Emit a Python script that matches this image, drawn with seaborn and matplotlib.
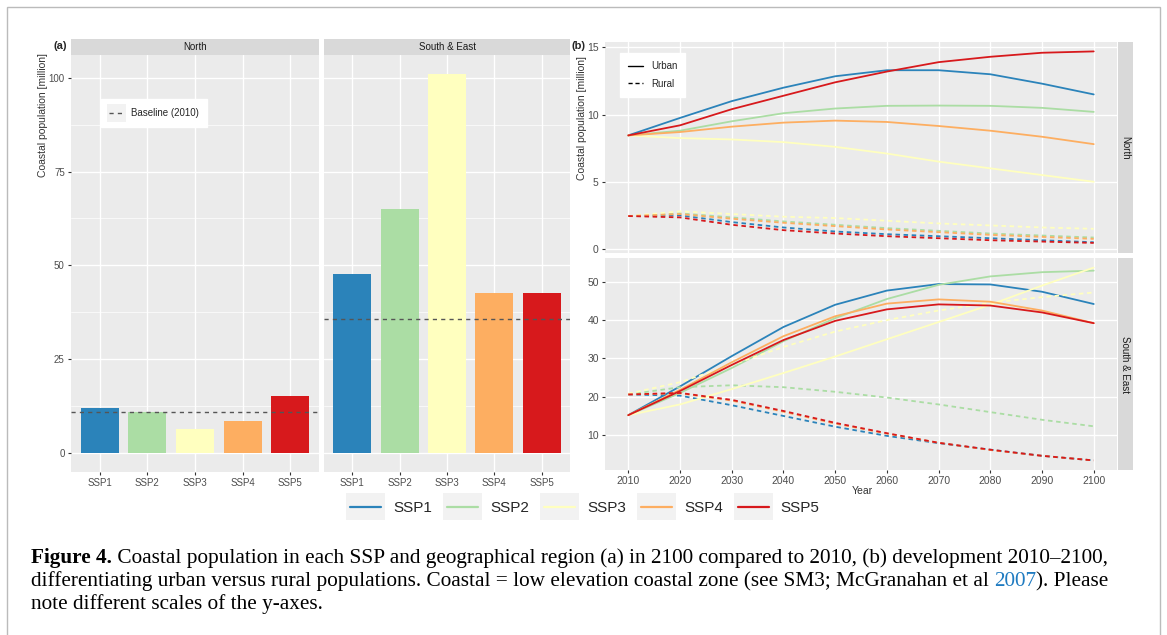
import matplotlib
matplotlib.use("Agg")
import numpy as np
import pandas as pd
import matplotlib.pyplot as plt
import seaborn as sns
from matplotlib.lines import Line2D
from matplotlib.patches import Rectangle
from matplotlib.legend_handler import HandlerLine2D

# data
ssps = ["SSP1", "SSP2", "SSP3", "SSP4", "SSP5"]
ssp_colors = ["#2b83ba", "#abdda4", "#ffffbf", "#fdae61", "#d7191c"]

# (a) coastal population in 2100 [million]
pop2100_north = [11.9, 11.0, 6.3, 8.6, 15.3]
pop2100_south = [47.6, 65.0, 101.0, 42.7, 42.6]
baseline_north = 11.0
baseline_south = 35.8

# (b) development 2010-2100
years = [2010, 2020, 2030, 2040, 2050, 2060, 2070, 2080, 2090, 2100]

north_urban_ssp1 = [8.45, 9.75, 11.0, 12.0, 12.85, 13.3, 13.3, 13.0, 12.3, 11.5]
north_urban_ssp2 = [8.45, 8.8, 9.5, 10.1, 10.45, 10.65, 10.67, 10.65, 10.5, 10.2]
north_urban_ssp3 = [8.45, 8.25, 8.15, 7.95, 7.6, 7.1, 6.5, 6.0, 5.5, 5.0]
north_urban_ssp4 = [8.45, 8.7, 9.1, 9.4, 9.55, 9.45, 9.15, 8.8, 8.35, 7.8]
north_urban_ssp5 = [8.45, 9.2, 10.4, 11.4, 12.4, 13.2, 13.9, 14.3, 14.6, 14.7]

north_rural_ssp1 = [2.45, 2.5, 2.0, 1.6, 1.3, 1.1, 0.95, 0.8, 0.65, 0.5]
north_rural_ssp2 = [2.45, 2.65, 2.35, 2.05, 1.8, 1.55, 1.35, 1.15, 1.0, 0.85]
north_rural_ssp3 = [2.45, 2.8, 2.6, 2.4, 2.3, 2.1, 1.9, 1.75, 1.6, 1.5]
north_rural_ssp4 = [2.45, 2.6, 2.25, 1.95, 1.7, 1.45, 1.25, 1.05, 0.9, 0.75]
north_rural_ssp5 = [2.45, 2.35, 1.8, 1.4, 1.15, 0.95, 0.8, 0.65, 0.55, 0.45]

south_urban_ssp1 = [15.2, 22.7, 30.6, 38.2, 44.0, 47.7, 49.4, 49.3, 47.4, 44.2]
south_urban_ssp2 = [15.2, 21.0, 27.5, 34.5, 40.5, 45.5, 49.2, 51.4, 52.5, 52.9]
south_urban_ssp3 = [15.2, 18.0, 22.0, 26.2, 30.5, 35.0, 39.5, 44.0, 49.0, 53.7]
south_urban_ssp4 = [15.2, 21.8, 29.0, 35.8, 41.0, 44.3, 45.4, 44.8, 42.5, 39.2]
south_urban_ssp5 = [15.2, 21.5, 28.3, 34.8, 39.8, 42.8, 44.1, 43.8, 42.0, 39.2]

south_rural_ssp1 = [20.6, 20.3, 17.8, 15.0, 12.2, 9.8, 7.9, 6.2, 4.6, 3.4]
south_rural_ssp2 = [20.6, 22.5, 23.0, 22.5, 21.3, 19.8, 18.0, 16.0, 14.0, 12.3]
south_rural_ssp3 = [20.8, 23.8, 28.3, 33.0, 37.0, 40.0, 42.5, 44.5, 46.0, 47.2]
south_rural_ssp4 = [20.6, 20.9, 19.0, 16.1, 13.0, 10.4, 8.0, 6.1, 4.6, 3.4]
south_rural_ssp5 = [20.6, 21.0, 19.2, 16.3, 13.2, 10.5, 8.0, 6.2, 4.6, 3.4]

series = {
    ("North", "Urban"): [north_urban_ssp1, north_urban_ssp2, north_urban_ssp3, north_urban_ssp4, north_urban_ssp5],
    ("North", "Rural"): [north_rural_ssp1, north_rural_ssp2, north_rural_ssp3, north_rural_ssp4, north_rural_ssp5],
    ("South & East", "Urban"): [south_urban_ssp1, south_urban_ssp2, south_urban_ssp3, south_urban_ssp4, south_urban_ssp5],
    ("South & East", "Rural"): [south_rural_ssp1, south_rural_ssp2, south_rural_ssp3, south_rural_ssp4, south_rural_ssp5],
}
rows = []
for (region, kind), vals in series.items():
    for ssp, v in zip(ssps, vals):
        for yr, p in zip(years, v):
            rows.append({"region": region, "type": kind, "ssp": ssp, "year": yr, "pop": p})
df_lines = pd.DataFrame(rows)

# ggplot-ish look
sns.set_theme(style="darkgrid", rc={
    "axes.facecolor": "#EBEBEB",
    "grid.color": "white",
    "grid.linewidth": 1.0,
    "axes.edgecolor": "none",
})
plt.rcParams["font.family"] = ["Liberation Sans", "DejaVu Sans"]

W, H = 1167, 635
fig = plt.figure(figsize=(W / 100, H / 100), dpi=100)


def px_axes(x0, y0, x1, y1):
    # pixel box (top-left origin) -> figure axes
    return fig.add_axes([x0 / W, 1 - y1 / H, (x1 - x0) / W, (y1 - y0) / H])


def strip(x0, y0, x1, y1, label, rot=0):
    ax = px_axes(x0, y0, x1, y1)
    ax.set_facecolor("#D9D9D9")
    ax.set_xticks([])
    ax.set_yticks([])
    ax.grid(False)
    ax.text(0.5, 0.5, label, transform=ax.transAxes, ha="center", va="center",
            fontsize=7, color="#1A1A1A", rotation=rot)
    return ax


# legend key with the light grey ggplot box behind it
class KeyBox(HandlerLine2D):
    def __init__(self, pad=3, **kw):
        super().__init__(**kw)
        self.pad = pad

    def create_artists(self, legend, orig, xd, yd, w, h, fontsize, trans):
        p = self.pad
        box = Rectangle((-xd - p, -yd - 2 * p), w + 2 * p, h + 4 * p, facecolor="#F2F2F2",
                        edgecolor="none", transform=trans)
        return [box] + super().create_artists(legend, orig, xd, yd, w, h, fontsize, trans)


tick_col = "#4D4D4D"

# ---------- panel (a) ----------
bar_boxes = [(71, 319, pop2100_north, baseline_north, "North"),
             (324, 570, pop2100_south, baseline_south, "South & East")]
for i, (x0, x1, vals, base, name) in enumerate(bar_boxes):
    ax = px_axes(x0, 55, x1, 472)
    sns.barplot(x=ssps, y=vals, hue=ssps, palette=ssp_colors, width=0.8,
                legend=False, ax=ax, saturation=1, edgecolor="none")
    ax.axhline(base, ls=(0, (3, 3)), color="#555555", lw=1)
    ax.set_xlim(-0.6, 4.6)
    ax.set_ylim(-5.05, 106.05)
    ax.set_yticks([0, 25, 50, 75, 100])
    ax.set_yticks([12.5, 37.5, 62.5, 87.5], minor=True)
    ax.grid(which="minor", axis="y", color="white", lw=0.5)
    ax.grid(which="major", color="white", lw=1.0)
    ax.set_axisbelow(True)
    ax.set_xlabel("")
    ax.set_ylabel("")
    ax.tick_params(axis="both", which="major", length=2.5, width=0.8, color="#333333",
                   labelsize=7, labelcolor=tick_col, pad=2, bottom=True, left=(i == 0))
    ax.tick_params(axis="both", which="minor", length=0)
    if i > 0:
        ax.set_yticklabels([])
    else:
        ax.legend(handles=[Line2D([], [], color="#555555", lw=1, ls=(0, (3, 3)))],
                  labels=["Baseline (2010)"], loc="upper left",
                  bbox_to_anchor=(0.1, 0.905), fontsize=7, frameon=True,
                  fancybox=False, framealpha=1, edgecolor="white",
                  facecolor="white", handlelength=1.4, borderpad=0.9,
                  handler_map={Line2D: KeyBox(pad=2)})
    strip(x0, 39, x1, 55, name)

fig.text(60 / W, 1 - 46 / H, "(a)", fontsize=8, fontweight="bold", ha="center", va="center")
fig.text(43 / W, 1 - 115 / H, "Coastal population [million]", rotation=90,
         fontsize=7.5, color="#333333", ha="center", va="center")

# ---------- panel (b) ----------
line_boxes = [(42, 253, "North", (-0.3, 15.4), [0, 5, 10, 15]),
              (258, 470, "South & East", (0.9, 56.2), [10, 20, 30, 40, 50])]
for j, (y0, y1, region, ylim, yt) in enumerate(line_boxes):
    ax = px_axes(605, y0, 1117, y1)
    sub = df_lines[df_lines["region"] == region]
    sns.lineplot(data=sub, x="year", y="pop", hue="ssp", style="type",
                 hue_order=ssps, palette=ssp_colors, style_order=["Urban", "Rural"],
                 dashes={"Urban": "", "Rural": (2.5, 2)}, lw=1.3, legend=False, ax=ax)
    ax.set_xlim(2005.5, 2104.5)
    ax.set_ylim(*ylim)
    ax.set_xticks(years)
    ax.set_yticks(yt)
    ax.grid(color="white", lw=1.0)
    ax.set_xlabel("")
    ax.set_ylabel("")
    ax.tick_params(axis="both", length=2.5, width=0.8, color="#333333",
                   labelsize=7.5, labelcolor=tick_col, pad=2, bottom=True, left=True)
    if j == 0:
        ax.set_xticklabels([])
        ax.tick_params(axis="x", length=0)
        ax.legend(handles=[Line2D([], [], color="black", lw=1),
                           Line2D([], [], color="black", lw=1, ls=(0, (3, 2)))],
                  labels=["Urban", "Rural"], loc="upper left",
                  bbox_to_anchor=(0.02, 0.97), fontsize=7, frameon=True,
                  fancybox=False, framealpha=1, edgecolor="white",
                  facecolor="white", handlelength=1.6, borderpad=0.8,
                  labelspacing=0.8)
    strip(1118, y0, 1133, y1, region, rot=270)

fig.text(578 / W, 1 - 46 / H, "(b)", fontsize=8, fontweight="bold", ha="center", va="center")
fig.text(582 / W, 1 - 118 / H, "Coastal population [million]", rotation=90,
         fontsize=7.5, color="#333333", ha="center", va="center")
fig.text(862 / W, 1 - 491 / H, "Year", fontsize=7.5, color="#333333", ha="center", va="center")

# ---------- shared SSP legend ----------
ssp_handles = [Line2D([], [], color=c, lw=1.6) for c in ssp_colors]
fig.legend(handles=ssp_handles, labels=ssps, loc="center",
           bbox_to_anchor=(585 / W, 1 - 508 / H), ncol=5, frameon=False,
           fontsize=11, handlelength=2.0, columnspacing=1.0, handletextpad=0.8,
           handler_map={Line2D: KeyBox(pad=3)})

# ---------- frame and caption ----------
fig.patches.append(Rectangle((7 / W, -0.05), (1160 - 7) / W, 1 - 7 / H + 0.05,
                             transform=fig.transFigure, fill=False,
                             edgecolor="#BBBBBB", lw=1))

serif = ["Liberation Serif", "DejaVu Serif"]
cap_size = 15.3
renderer = fig.canvas.get_renderer()


def put_parts(x_px, y_px, parts):
    x = x_px
    for txt, weight, col in parts:
        t = fig.text(x / W, 1 - y_px / H, txt, family=serif, fontsize=cap_size,
                     fontweight=weight, color=col, ha="left", va="baseline")
        x += t.get_window_extent(renderer).width


put_parts(31, 563, [("Figure 4.", "bold", "black"),
                    (" Coastal population in each SSP and geographical region (a) in 2100 compared to 2010, (b) development 2010\u20132100,", "normal", "black")])
put_parts(31, 586, [("differentiating urban versus rural populations. Coastal = low elevation coastal zone (see SM3; McGranahan et al ", "normal", "black"),
                    ("2007", "normal", "#1F7BC1"),
                    ("). Please", "normal", "black")])
put_parts(31, 609, [("note different scales of the y-axes.", "normal", "black")])

fig.savefig("out.png", dpi=100, facecolor="white")
